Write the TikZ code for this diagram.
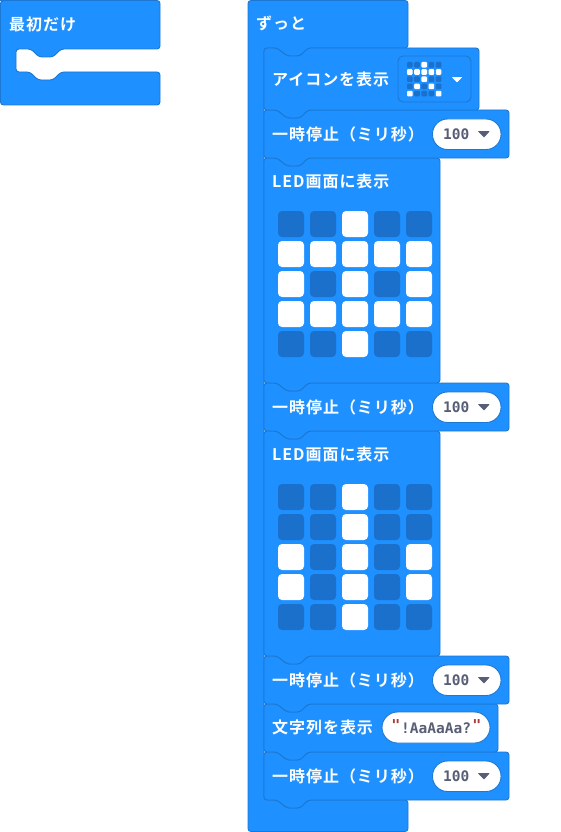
\documentclass[tikz,border=0pt]{standalone}
\usepackage{fontspec}
\setmainfont{Noto Sans CJK JP}
\newfontfamily\jpf[LetterSpace=6,BoldFont={Noto Sans CJK JP Bold}]{Noto Sans CJK JP}
\newfontfamily\numf{DejaVu Sans Mono}
\definecolor{blk}{HTML}{1E90FF}
\definecolor{edge}{HTML}{1C78D2}
\definecolor{ledoff}{HTML}{1A70CA}
\definecolor{grey}{HTML}{575E75}
\definecolor{quot}{HTML}{A83A3A}
\tikzset{
  blockshape/.style={fill=blk,draw=edge,line width=.9pt,rounded corners=3pt,line join=round},
  label/.style={anchor=west,text=white,inner sep=0pt,font=\jpf\fontsize{16}{16}\selectfont\bfseries},
  pill/.style={fill=white,draw=edge,line width=.9pt},
  numtxt/.style={anchor=west,inner sep=0pt,text=grey,font=\numf\fontsize{14.5}{15}\selectfont\bfseries},
  tri/.style={fill=grey,draw=grey,line width=.6pt,line join=round},
  ledon/.style={fill=white,rounded corners=4pt},
  ledout/.style={fill=ledoff,rounded corners=4pt},
}
% stack block: left, top, right, bottom
\newcommand{\stackblock}[4]{%
  \draw[blockshape] (#1,#2) -- (#1+13,#2) -- (#1+23,#2+8) -- (#1+36,#2+8) -- (#1+44,#2)
    -- (#3,#2) -- (#3,#4) -- (#1+44,#4) -- (#1+36,#4+8) -- (#1+23,#4+8) -- (#1+13,#4) -- (#1,#4) -- cycle;}
\newcommand{\pausefield}[2]{%
  \draw[pill,rounded corners=15pt] (432.5,#1) rectangle (501,#1+30.5);
  \node[numtxt] (num#2) at (443,#1+15.5) {100};
  \draw[tri] (478.5,#1+12.5) -- (489,#1+12.5) -- (484,#1+18) -- cycle;}
\newcommand{\pausetext}[2]{\node[label] (pause#2) at (272,#1) {一時停止（ミリ秒）};}
\newcommand{\ledgrid}[2]{%
  \foreach \rowbits [count=\r from 0] in {#2} {
    \foreach \bit [count=\c from 0] in \rowbits {
      \ifnum\bit=1 \def\st{ledon}\else\def\st{ledout}\fi
      \path[\st] (278+32*\c,#1+30*\r) rectangle +(26,26);
    }
  }}
\begin{document}
\begin{tikzpicture}[x=1pt,y=-1pt]
\useasboundingbox (0,0) rectangle (561,832);
% on-start hat
\draw[blockshape] (2,0.5) -- (160,0.5) -- (160,49) -- (61,49) -- (53,57) -- (39,57) -- (31,49) -- (16,49)
  -- (16,72) -- (30,72) -- (38,80) -- (53,80) -- (61,72) -- (160,72) -- (160,105) -- (0.5,105) -- (0.5,0.5) -- cycle;
\node[label] (start) at (9,24.5) {最初だけ};
% forever
\draw[blockshape] (248,0.5) -- (408,0.5) -- (408,48) -- (308,48) -- (300,56) -- (287,56) -- (277,48) -- (264,48)
  -- (264,800) -- (277,800) -- (287,808) -- (300,808) -- (308,800) -- (408,800) -- (408,831.5) -- (248,831.5) -- cycle;
\node[label] (forever) at (256,23.5) {ずっと};
% inner blocks, bottom up
\stackblock{264}{752}{509}{800}
\stackblock{264}{704}{498}{752}
\stackblock{264}{656}{509}{704}
\stackblock{264}{431}{440}{656}
\stackblock{264}{383}{509}{431}
\stackblock{264}{158}{440}{383}
\stackblock{264}{110}{509}{158}
\stackblock{264}{48}{479}{110}
% icon block
\node[label] (icon) at (272,79) {アイコンを表示};
\draw[fill=blk,draw=edge,line width=.9pt,rounded corners=5pt] (398,56) rectangle (471,102);
\foreach \rowbits [count=\r from 0] in {{0,0,1,0,0},{1,1,1,1,1},{0,0,1,0,0},{0,1,0,1,0},{1,0,0,0,1}} {
  \foreach \bit [count=\c from 0] in \rowbits {
    \ifnum\bit=1 \def\st{white}\else\def\st{ledoff}\fi
    \fill[\st,rounded corners=1pt] (407+7.2*\c,62+7.2*\r) rectangle +(5.6,5.6);
  }
}
\draw[fill=white,draw=white,line width=.6pt,line join=round] (452.5,77.5) -- (461.5,77.5) -- (457,82) -- cycle;
% pauses
\pausetext{134}{a}\pausefield{119}{a}
\pausetext{407}{b}\pausefield{392}{b}
\pausetext{680}{c}\pausefield{665}{c}
\pausetext{776}{d}\pausefield{761}{d}
% LED blocks
\node[label] (leda) at (272,181.5) {LED画面に表示};
\ledgrid{211}{{0,0,1,0,0},{1,1,1,1,1},{1,0,1,0,1},{1,1,1,1,1},{0,0,1,0,0}}
\node[label] (ledb) at (272,454.5) {LED画面に表示};
\ledgrid{484}{{0,0,1,0,0},{0,0,1,0,0},{1,0,1,0,1},{1,0,1,0,1},{0,0,1,0,0}}
% show string
\node[label] (str) at (272,727) {文字列を表示};
\draw[pill,rounded corners=15.5pt] (382,712) rectangle (490,743);
\node[numtxt] (strval) at (401,728) {!AaAaAa?};
\node[anchor=center,inner sep=0pt,text=quot,font=\numf\fontsize{15}{15}\selectfont\bfseries] (qa) at (396,725) {"};
\node[anchor=center,inner sep=0pt,text=quot,font=\numf\fontsize{15}{15}\selectfont\bfseries] (qb) at (477,725) {"};
\end{tikzpicture}
\end{document}
